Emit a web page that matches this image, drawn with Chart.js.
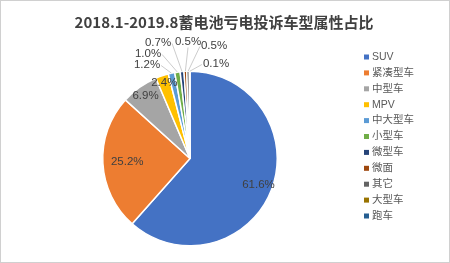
<!DOCTYPE html>
<html>
<head>
<meta charset="utf-8">
<script src="https://cdn.jsdelivr.net/npm/chart.js@4.4.1/dist/chart.umd.min.js"></script>
<style>
  html, body { margin: 0; padding: 0; background: #fff; }
  #wrap { width: 450px; height: 263px; position: relative; }
</style>
</head>
<body>
<div id="wrap"><canvas id="chart" width="450" height="263"></canvas></div>
<script>
// chart data
const chartTitle = '2018.1-2019.8蓄电池亏电投诉车型属性占比';
const categories = ['SUV', '紧凑型车', '中型车', 'MPV', '中大型车', '小型车', '微型车', '微面', '其它', '大型车', '跑车'];
const shares = [61.6, 25.2, 6.9, 2.4, 1.2, 1.0, 0.7, 0.5, 0.5, 0.1, 0];

const colors = ['#4472C4', '#ED7D31', '#A5A5A5', '#FFC000', '#5B9BD5', '#70AD47',
  '#264478', '#9E480E', '#636363', '#997300', '#255E91'];

// where each percent label goes: inside at a fraction of the radius, or outside at an offset from the centre
const labelPlacement = [
  { r: 0.84 }, { r: 0.72 }, { r: 0.88 }, { r: 0.92 },
  { dx: -43, dy: -94 }, { dx: -42, dy: -105 }, { dx: -32, dy: -116 },
  { dx: -2, dy: -117 }, { dx: 24, dy: -113 }, { dx: 26, dy: -95 }, null
];

const textColor = '#404040';
const labelFont = '11.5px "Liberation Sans Narrow", "Liberation Sans", sans-serif';

const decorPlugin = {
  id: 'decor',
  afterDraw(chart) {
    const ctx = chart.ctx;
    ctx.save();

    // border of the picture
    ctx.strokeStyle = '#d0d0d0';
    ctx.lineWidth = 1;
    ctx.strokeRect(0.5, 0.5, chart.width - 1, chart.height - 1);

    // title
    ctx.fillStyle = textColor;
    ctx.font = 'bold 15px "Noto Sans CJK SC", sans-serif';
    ctx.textAlign = 'center';
    ctx.textBaseline = 'middle';
    ctx.fillText(chartTitle, 224, 22);

    // percent labels
    const arcs = chart.getDatasetMeta(0).data;
    ctx.font = labelFont;
    arcs.forEach((arc, i) => {
      const place = labelPlacement[i];
      if (!place || !shares[i]) return;
      const p = arc.getProps(['x', 'y', 'startAngle', 'endAngle', 'outerRadius'], true);
      const mid = (p.startAngle + p.endAngle) / 2;
      const text = shares[i].toFixed(1) + '%';
      if (place.r) {
        const lx = p.x + Math.cos(mid) * p.outerRadius * place.r;
        const ly = p.y + Math.sin(mid) * p.outerRadius * place.r;
        ctx.fillStyle = textColor;
        ctx.fillText(text, lx, ly);
      } else {
        const lx = p.x + place.dx;
        const ly = p.y + place.dy;
        const ex = p.x + Math.cos(mid) * p.outerRadius;
        const ey = p.y + Math.sin(mid) * p.outerRadius;
        const w = ctx.measureText(text).width;
        // short leader from the label towards the slice edge
        let sx = lx, sy = ly + 6;
        if (Math.abs(ex - lx) > w / 2 + 2) {
          sx = lx + (lx < ex ? w / 2 + 1 : -w / 2 - 1);
          sy = ly + 1;
        }
        ctx.strokeStyle = '#bfbfbf';
        ctx.lineWidth = 0.8;
        ctx.beginPath();
        ctx.moveTo(sx, sy);
        ctx.lineTo(ex, ey);
        ctx.stroke();
        ctx.fillStyle = textColor;
        ctx.fillText(text, lx, ly);
      }
    });

    // legend
    ctx.textAlign = 'left';
    ctx.font = '10.5px "Liberation Sans", "Noto Sans CJK SC", sans-serif';
    categories.forEach((name, i) => {
      const y = 57 + i * 15.9;
      ctx.fillStyle = colors[i];
      ctx.fillRect(364, y - 2.5, 5, 5);
      ctx.fillStyle = '#595959';
      ctx.fillText(name, 372, y);
    });

    ctx.restore();
  }
};

new Chart(document.getElementById('chart'), {
  type: 'pie',
  data: {
    labels: categories,
    datasets: [{
      data: shares,
      backgroundColor: colors,
      borderColor: '#ffffff',
      borderWidth: 1.5
    }]
  },
  options: {
    responsive: false,
    devicePixelRatio: 1,
    animation: false,
    layout: { padding: { top: 70, bottom: 16, left: 102, right: 172 } },
    plugins: {
      legend: { display: false },
      title: { display: false },
      tooltip: { enabled: false }
    }
  },
  plugins: [decorPlugin]
});
</script>
</body>
</html>
